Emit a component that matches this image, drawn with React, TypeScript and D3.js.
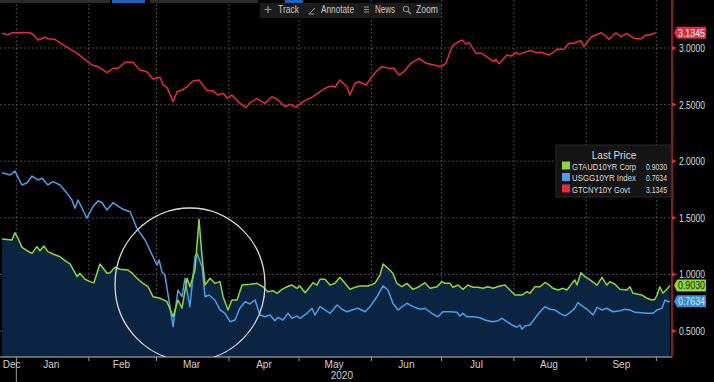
import React from 'react';
import * as d3 from 'd3';

const W = 714;
const H = 382;

// days since 2019-12-25
const cnyDays = [0.9,3.0,5.6,12.8,14.1,16.3,19.3,20.5,23.5,27.0,33.0,39.4,42.0,45.8,48.4,50.5,53.5,56.9,59.9,62.9,65.5,68.5,69.8,71.5,74.1,75.8,77.9,80.1,82.6,85.2,88.6,91.2,93.3,95.5,97.2,99.3,101.9,105.3,107.0,110.0,113.4,116.4,119.0,122.0,124.1,126.7,129.7,134.0,137.0,140.0,142.1,143.4,145.5,148.5,149.8,152.0,153.7,156.7,159.2,161.0,163.5,166.5,168.7,170.8,172.9,175.9,177.2,179.4,182.4,185.8,188.8,190.9,193.5,195.2,197.8,199.5,200.8,203.8,206.3,209.3,211.5,212.3,213.6,217.0,218.8,220.9,222.2,225.2,227.3,229.5,231.6,235.0,237.2,238.4,241.4,243.6,245.7,248.7,250.0,253.0,257.3,259.4,260.7,263.7,265.8,268.4,271.4,274.4,276.5,277.8,280.8];
const cnyValues = [3.130,3.118,3.135,3.135,3.121,3.071,3.095,3.082,3.077,3.027,2.953,2.850,2.835,2.782,2.821,2.821,2.874,2.874,2.806,2.791,2.726,2.741,2.673,2.653,2.526,2.614,2.629,2.658,2.709,2.717,2.623,2.623,2.585,2.600,2.556,2.585,2.526,2.473,2.517,2.552,2.511,2.570,2.541,2.481,2.503,2.476,2.526,2.570,2.614,2.653,2.664,2.653,2.717,2.658,2.585,2.688,2.702,2.673,2.746,2.791,2.835,2.821,2.821,2.761,2.791,2.865,2.879,2.909,2.865,2.850,2.835,2.865,3.012,3.042,3.071,3.035,3.047,2.953,2.953,2.909,2.879,2.900,2.859,2.938,2.929,2.962,2.944,2.967,2.976,2.959,2.962,2.938,2.967,2.989,2.989,3.042,3.042,3.065,3.012,3.095,3.135,3.106,3.077,3.135,3.100,3.130,3.086,3.080,3.115,3.112,3.1345];

const audDays = [0.9,5.1,6.4,7.7,9.4,11.6,13.7,15.8,17.1,18.8,20.5,22.7,25.7,27.8,30.0,33.0,34.2,36.4,38.5,40.2,42.8,45.8,47.1,49.2,51.4,54.8,56.5,58.6,61.2,63.4,65.5,68.5,71.5,74.1,76.2,77.9,80.1,81.3,83.5,85.2,86.5,87.8,89.9,92.0,94.2,95.5,97.6,99.3,101.5,103.6,107.0,110.0,112.6,114.7,116.9,118.6,120.7,122.9,125.0,127.1,128.4,130.6,132.7,134.0,135.7,137.0,139.1,141.3,143.4,145.5,147.7,149.8,152.0,154.1,157.5,160.5,162.7,164.0,166.1,168.2,169.9,172.1,174.2,176.8,178.9,181.9,184.1,187.1,189.2,190.5,192.6,193.9,196.1,198.2,200.3,202.5,204.6,206.8,208.9,211.0,214.0,216.2,218.3,220.5,223.5,225.6,226.9,229.0,231.2,233.3,234.6,236.7,238.9,241.0,242.7,244.9,246.1,247.0,248.7,250.4,252.6,255.6,257.7,259.8,261.1,263.3,265.4,268.4,269.7,271.0,274.8,277.0,279.1,280.4,281.3,282.5,283.8,285.5,286.8];
const audValues = [1.313,1.304,1.368,1.319,1.239,1.209,1.186,1.245,1.209,1.251,1.201,1.180,1.156,1.121,1.092,0.980,1.010,0.957,0.936,0.927,1.092,1.010,1.015,1.063,1.045,1.039,1.012,0.966,0.921,0.891,0.803,0.789,0.759,0.626,0.774,0.701,0.966,0.891,1.039,1.487,1.156,0.906,0.966,0.921,0.936,0.803,0.686,0.774,0.774,0.906,0.913,0.921,0.891,0.847,0.856,0.833,0.868,0.891,0.906,0.877,0.898,0.838,0.891,0.927,0.906,0.957,0.957,0.906,0.921,0.974,0.921,0.868,0.886,0.898,0.898,0.921,0.995,1.092,1.054,1.010,0.921,0.891,0.921,0.868,0.886,0.927,0.877,0.891,0.936,0.921,0.921,0.886,0.906,0.868,0.906,0.886,0.886,0.877,0.891,0.877,0.898,0.906,0.862,0.818,0.818,0.847,0.833,0.891,0.891,0.927,0.915,0.877,0.862,0.877,0.862,0.921,0.951,0.906,1.015,0.980,0.951,0.906,0.974,0.906,0.936,0.913,0.868,0.862,0.891,0.833,0.818,0.789,0.774,0.780,0.818,0.891,0.833,0.868,0.903];

const usDays = [0.9,4.3,6.4,9.4,11.6,13.7,16.3,18.0,20.5,22.7,25.7,28.7,30.8,32.1,33.4,35.5,37.2,39.8,42.0,43.7,45.8,48.4,50.5,52.7,55.7,58.6,62.1,65.5,67.2,68.1,69.3,70.6,74.1,76.2,77.9,79.2,80.1,81.3,83.5,84.3,86.5,87.8,89.5,92.0,94.2,96.3,98.5,100.6,102.7,104.9,107.0,109.2,111.3,113.4,115.6,117.7,119.0,121.1,123.3,125.0,127.1,128.4,131.4,133.6,134.8,137.0,139.1,141.3,144.3,146.4,148.5,150.7,153.3,156.3,158.4,161.4,164.0,166.1,168.2,170.4,174.2,176.8,179.8,181.9,184.9,187.5,189.6,192.6,195.6,196.9,198.2,199.9,202.5,205.5,207.6,210.6,212.8,214.9,217.0,219.2,221.3,222.6,223.5,224.7,226.9,229.0,231.2,233.3,235.4,237.6,239.7,241.9,244.0,246.1,247.4,249.6,251.7,253.9,255.6,257.7,259.8,262.4,265.4,267.6,269.7,271.8,274.8,277.4,279.5,281.3,283.4,284.7,286.0,286.8];
const usValues = [1.898,1.878,1.913,1.790,1.810,1.869,1.834,1.849,1.790,1.819,1.790,1.716,1.657,1.584,1.657,1.569,1.496,1.598,1.651,1.633,1.569,1.633,1.604,1.575,1.554,1.407,1.304,1.156,1.083,1.127,1.024,0.995,0.538,0.862,0.803,0.966,0.847,0.715,1.156,1.186,1.068,0.803,0.818,0.774,0.686,0.656,0.582,0.597,0.701,0.759,0.739,0.774,0.641,0.626,0.641,0.591,0.621,0.597,0.656,0.612,0.633,0.612,0.656,0.701,0.641,0.715,0.686,0.656,0.730,0.692,0.670,0.686,0.701,0.670,0.715,0.803,0.898,0.862,0.745,0.686,0.745,0.715,0.692,0.701,0.656,0.626,0.670,0.670,0.665,0.633,0.656,0.626,0.626,0.617,0.597,0.582,0.588,0.612,0.582,0.553,0.533,0.553,0.515,0.544,0.553,0.612,0.670,0.715,0.692,0.686,0.656,0.633,0.662,0.701,0.750,0.715,0.686,0.641,0.709,0.686,0.701,0.670,0.679,0.692,0.686,0.665,0.662,0.656,0.656,0.686,0.701,0.774,0.759,0.7634];

const yTicks = [0.5, 1.0, 1.5, 2.0, 2.5, 3.0];
const monthStarts = [[2020,0,1],[2020,1,1],[2020,2,1],[2020,3,1],[2020,4,1],[2020,5,1],[2020,6,1],[2020,7,1],[2020,8,1],[2020,9,1]];
const monthLabels = ['Dec','Jan','Feb','Mar','Apr','May','Jun','Jul','Aug','Sep'];
const monthLabelDates = [[2019,11,30],[2020,0,16],[2020,1,15],[2020,2,16],[2020,3,16],[2020,4,16],[2020,5,16],[2020,6,16],[2020,7,16],[2020,8,16]];
const yearLabel = '2020';

const legendTitle = 'Last Price';
const seriesNames = ['GTAUD10YR Corp', 'USGG10YR Index', 'GTCNY10Y Govt'];
const lastValues = ['0.9030', '0.7634', '3.1345'];
const toolButtons = ['Track', 'Annotate', 'News', 'Zoom'];

const RED = '#e8283c';
const GREEN = '#8fd63a';
const BLUE = '#4c9fe6';
const FILL = '#0a2442';
const FONT = '"Liberation Sans", Arial, sans-serif';

const base = new Date(2019, 11, 25);
const toDate = (d: number) => new Date(base.getTime() + d * 86400000);

export default function App() {
  const plotRight = 672;
  const plotBottom = 357;
  const x = d3.scaleTime().domain([base, toDate(287.7)]).range([0, plotRight]);
  const y = d3.scaleLinear().domain([0.5, 3.0]).range([331, 48]);

  const mk = (days: number[], vals: number[]) => days.map((d, i) => ({ t: toDate(d), v: vals[i] }));
  const cny = mk(cnyDays, cnyValues);
  const aud = mk(audDays, audValues);
  const us = mk(usDays, usValues);

  const line = d3.line<{ t: Date; v: number }>().x(d => x(d.t)).y(d => y(d.v));
  const area = d3.area<{ t: Date; v: number }>().x(d => x(d.t)).y0(plotBottom).y1(d => y(d.v));
  const fmt = d3.format('.4f');

  const tagYs = [y(audValues[audValues.length - 1]), y(usValues[usValues.length - 1]), y(cnyValues[cnyValues.length - 1])];
  const tagColors = [GREEN, '#3d8fd8', RED];
  const tagText = ['#10260a', '#cfeaff', '#ffffff'];
  const swatch = [GREEN, BLUE, RED];

  const tag = (i: number) => {
    const cy = tagYs[i];
    const x0 = 674, x1 = 706, h = 12;
    const p = `M${x0},${cy} L${x0 + 3},${cy - h / 2} L${x1},${cy - h / 2} L${x1},${cy + h / 2} L${x0 + 3},${cy + h / 2} Z`;
    return (
      <g key={'tag' + i}>
        <path d={p} fill={tagColors[i]} />
        <text x={678} y={cy + 4} fontSize={10} fill={tagText[i]} fontFamily={FONT} textLength={27} lengthAdjust="spacingAndGlyphs">{lastValues[i]}</text>
      </g>
    );
  };

  const btnX = [278, 321, 375, 416];
  const btnW = [21, 33, 20, 22];
  const rowY = [169.5, 181, 192.5];

  return (
    <svg width={W} height={H} style={{ position: 'absolute', left: 0, top: 0, background: '#000' }}>
      <defs>
        <clipPath id="plot"><rect x={0} y={0} width={plotRight} height={plotBottom} /></clipPath>
      </defs>
      <rect x={0} y={0} width={W} height={H} fill="#000" />
      {yTicks.map(t => (
        <line key={'gy' + t} x1={0} x2={plotRight} y1={y(t)} y2={y(t)} stroke="#5a5a5a" strokeWidth={0.8} strokeDasharray="2,2" />
      ))}
      {monthStarts.map((m, i) => {
        const xx = x(new Date(m[0], m[1], m[2]));
        return <line key={'gx' + i} x1={xx} x2={xx} y1={0} y2={plotBottom} stroke="#5a5a5a" strokeWidth={0.8} strokeDasharray="2,2" />;
      })}
      <g clipPath="url(#plot)">
        <path d={area(aud) || ''} fill={FILL} />
        <path d={line(cny) || ''} fill="none" stroke={RED} strokeWidth={1.5} strokeLinejoin="round" />
        <path d={line(us) || ''} fill="none" stroke={BLUE} strokeWidth={1.5} strokeLinejoin="round" />
        <path d={line(aud) || ''} fill="none" stroke={GREEN} strokeWidth={1.5} strokeLinejoin="round" />
        <ellipse cx={190} cy={284.5} rx={75} ry={76.5} fill="none" stroke="#dcdcdc" strokeWidth={1.3} />
      </g>
      <line x1={0} x2={plotRight} y1={plotBottom} y2={plotBottom} stroke="#bdbdbd" strokeWidth={1} />
      {monthStarts.map((m, i) => {
        const xx = x(new Date(m[0], m[1], m[2]));
        return <line key={'tx' + i} x1={xx} x2={xx} y1={plotBottom} y2={i === 0 ? H : plotBottom + 4} stroke="#9a9a9a" strokeWidth={1} />;
      })}
      {monthLabels.map((lbl, i) => {
        const m = monthLabelDates[i];
        return <text key={'ml' + i} x={x(new Date(m[0], m[1], m[2]))} y={368} textAnchor="middle" fontSize={10} fill="#cfcfcf" fontFamily={FONT}>{lbl}</text>;
      })}
      <text x={353} y={379} textAnchor="end" fontSize={10} fill="#cfcfcf" fontFamily={FONT}>{yearLabel}</text>
      <line x1={plotRight} x2={plotRight} y1={0} y2={plotBottom} stroke={RED} strokeWidth={1.2} />
      {yTicks.map(t => (
        <g key={'yt' + t}>
          <path d={`M${plotRight},${y(t) - 2} L${plotRight + 5},${y(t)} L${plotRight},${y(t) + 2} Z`} fill={RED} />
          <text x={679} y={y(t) + 4} fontSize={10.5} fill="#dcdcdc" fontFamily={FONT} textLength={26} lengthAdjust="spacingAndGlyphs">{fmt(t)}</text>
        </g>
      ))}
      <rect x={556} y={145} width={115} height={52} fill="#141414" stroke="#262626" />
      <text x={614} y={158.5} textAnchor="middle" fontSize={10} fill="#dcdcdc" fontFamily={FONT}>{legendTitle}</text>
      {seriesNames.map((n, i) => (
        <g key={'lg' + i}>
          <rect x={562} y={rowY[i] - 8} width={8} height={8} fill={swatch[i]} />
          <text x={572} y={rowY[i]} fontSize={9} fill="#dcdcdc" fontFamily={FONT} textLength={[64, 64, 58][i]} lengthAdjust="spacingAndGlyphs">{n}</text>
          <text x={646} y={rowY[i]} fontSize={9} fill="#dcdcdc" fontFamily={FONT} textLength={21} lengthAdjust="spacingAndGlyphs">{lastValues[i]}</text>
        </g>
      ))}
      {[2, 0, 1].map(i => tag(i))}
      <rect x={0} y={0} width={110} height={3} fill="#2b2b2b" />
      <rect x={112} y={0} width={33} height={3} fill="#1f62b8" />
      <rect x={150} y={0} width={108} height={3} fill="#2b2b2b" />
      <rect x={285} y={0} width={18} height={3} fill="#1f62b8" />
      <rect x={260} y={3} width={181} height={15} fill="#1b1b1b" />
      <g fontFamily={FONT} fontSize={10} fill="#c8c8c8">
        <path d="M268,6 v7 M264.5,9.5 h7" stroke="#9a9a9a" strokeWidth={1.2} />
        <path d="M309,14 L315,8 M309,14 h5" stroke="#9a9a9a" strokeWidth={1} fill="none" />
        <path d="M364,7 h5 M364,9.5 h5 M364,12 h5" stroke="#9a9a9a" strokeWidth={1.2} />
        <circle cx={406} cy={9} r={2.8} stroke="#9a9a9a" strokeWidth={1} fill="none" />
        <path d="M408,11 L411,14" stroke="#9a9a9a" strokeWidth={1.2} />
        {toolButtons.map((b, i) => (
          <text key={b} x={btnX[i]} y={13} textLength={btnW[i]} lengthAdjust="spacingAndGlyphs">{b}</text>
        ))}
      </g>
    </svg>
  );
}
